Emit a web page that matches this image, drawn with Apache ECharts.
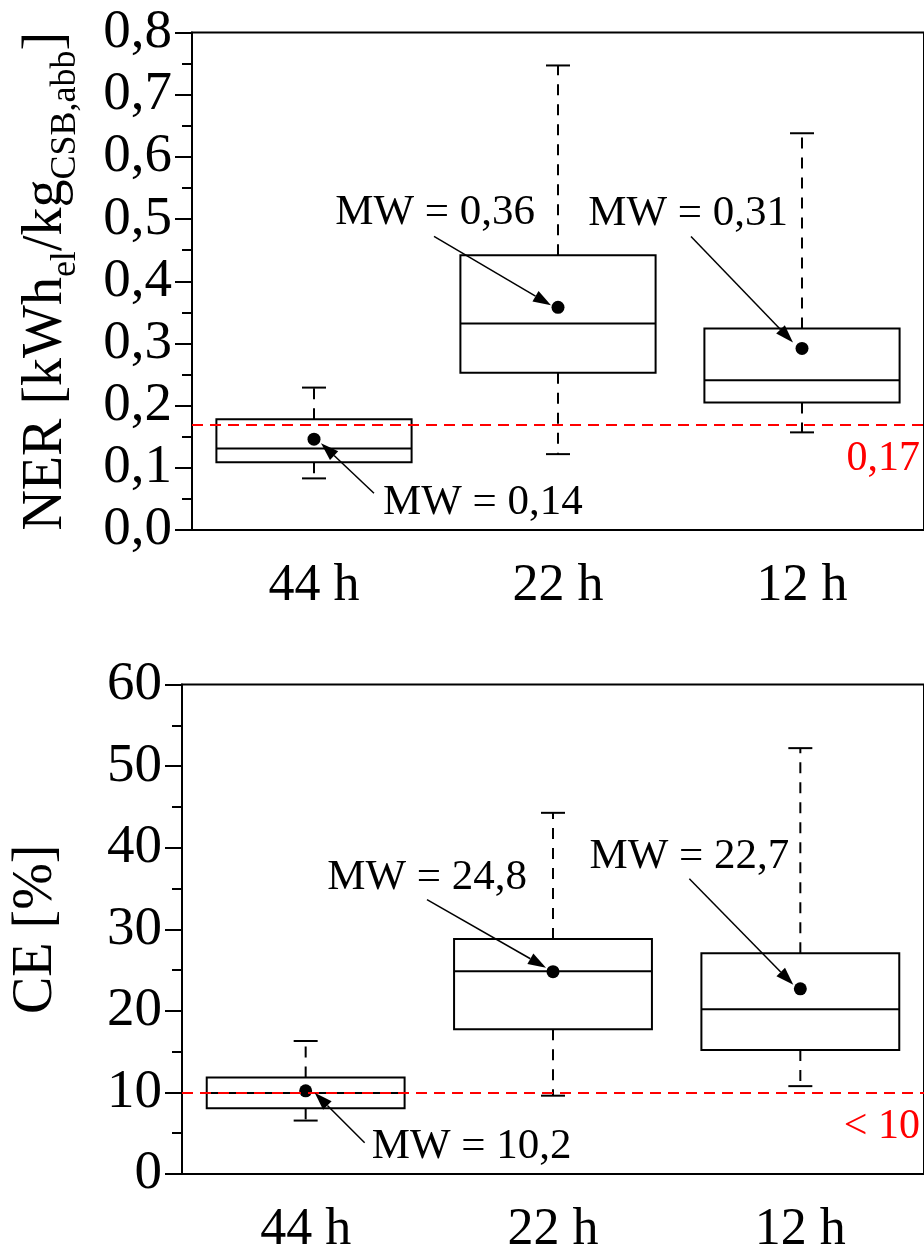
<!DOCTYPE html>
<html>
<head>
<meta charset="utf-8">
<script src="https://cdn.jsdelivr.net/npm/echarts@6/dist/echarts.min.js"></script>
<style>
  html, body { margin: 0; padding: 0; background: #fff; }
  #chart { width: 924px; height: 1256px; }
</style>
</head>
<body>
<div id="chart"></div>
<script>
// categories (retention time)
const categories = ['44 h', '22 h', '12 h'];

// NER box data [kWh_el / kg_CSB,abb]
const nerLow = [0.083, 0.122, 0.157];
const nerQ1 = [0.109, 0.253, 0.205];
const nerMedian = [0.131, 0.332, 0.241];
const nerQ3 = [0.178, 0.442, 0.324];
const nerHigh = [0.229, 0.747, 0.638];
const nerMean = [0.146, 0.358, 0.292];
const nerMeanLabels = ['MW = 0,14', 'MW = 0,36', 'MW = 0,31'];
const nerLimit = 0.17;
const nerLimitLabel = '0,17';

// CE box data [%]
const ceLow = [6.55, 9.6, 10.77];
const ceQ1 = [8.05, 17.73, 15.2];
const ceMedian = [9.93, 24.85, 20.18];
const ceQ3 = [11.82, 28.79, 27.06];
const ceHigh = [16.3, 44.27, 52.2];
const ceMean = [10.2, 24.8, 22.7];
const ceMeanLabels = ['MW = 10,2', 'MW = 24,8', 'MW = 22,7'];
const ceLimit = 10;
const ceLimitLabel = '< 10';

const FONT = "'Liberation Serif', 'Times New Roman', serif";

// annotation placement relative to the mean dot (pixels)
const nerNotes = [
  { tip: [7, 4], start: [60, 54], text: [69, 63], align: 'left' },
  { tip: [-7, -2], start: [-124, -71], text: [-23, -95], align: 'right' },
  { tip: [-9, -6], start: [-111, -112], text: [-14, -135], align: 'right' }
];
const ceNotes = [
  { tip: [9, 2], start: [59, 52], text: [66, 56], align: 'left' },
  { tip: [-7, -4], start: [-126, -72], text: [-26, -94], align: 'right' },
  { tip: [-7, -4], start: [-111, -110], text: [-11, -132], align: 'right' }
];

function boxRows(lo, q1, md, q3, hi) {
  return categories.map((c, i) => [i, lo[i], q1[i], md[i], q3[i], hi[i]]);
}

function renderBox(params, api) {
  const x = api.value(0);
  const lo = api.coord([x, api.value(1)]);
  const q1 = api.coord([x, api.value(2)]);
  const md = api.coord([x, api.value(3)]);
  const q3 = api.coord([x, api.value(4)]);
  const hi = api.coord([x, api.value(5)]);
  const bw = api.size([1, 0])[0] * 0.8;
  const cx = md[0];
  const cap = 12;
  const solid = { stroke: '#000', lineWidth: 2, fill: null };
  const dashed = { stroke: '#000', lineWidth: 2, lineDash: [11, 9] };
  return {
    type: 'group',
    children: [
      { type: 'line', shape: { x1: cx, y1: q3[1], x2: cx, y2: hi[1] }, style: dashed },
      { type: 'line', shape: { x1: cx, y1: q1[1], x2: cx, y2: lo[1] }, style: dashed },
      { type: 'line', shape: { x1: cx - cap, y1: hi[1], x2: cx + cap, y2: hi[1] }, style: solid },
      { type: 'line', shape: { x1: cx - cap, y1: lo[1], x2: cx + cap, y2: lo[1] }, style: solid },
      { type: 'rect', shape: { x: cx - bw / 2, y: q3[1], width: bw, height: q1[1] - q3[1] },
        style: { stroke: '#000', lineWidth: 2, fill: '#fff' } },
      { type: 'line', shape: { x1: cx - bw / 2, y1: md[1], x2: cx + bw / 2, y2: md[1] }, style: solid }
    ]
  };
}

function makeNote(labels, notes) {
  return function (params, api) {
    const p = api.coord([api.value(0), api.value(1)]);
    const o = notes[params.dataIndex];
    const tip = [p[0] + o.tip[0], p[1] + o.tip[1]];
    const st = [p[0] + o.start[0], p[1] + o.start[1]];
    const dx = tip[0] - st[0], dy = tip[1] - st[1];
    const len = Math.sqrt(dx * dx + dy * dy);
    const ux = dx / len, uy = dy / len;
    const hl = 18, hw = 6;
    const base = [tip[0] - ux * hl, tip[1] - uy * hl];
    return {
      type: 'group',
      children: [
        { type: 'line', shape: { x1: st[0], y1: st[1], x2: base[0], y2: base[1] },
          style: { stroke: '#000', lineWidth: 1.5 } },
        { type: 'polygon',
          shape: { points: [tip, [base[0] - uy * hw, base[1] + ux * hw], [base[0] + uy * hw, base[1] - ux * hw]] },
          style: { fill: '#000' } },
        { type: 'text',
          style: { text: labels[params.dataIndex], x: p[0] + o.text[0], y: p[1] + o.text[1],
            align: o.align, verticalAlign: 'middle', fontSize: 43, fontFamily: FONT, fill: '#000' } }
      ]
    };
  };
}

function xAxisFor(gi) {
  return {
    type: 'category', gridIndex: gi, data: categories,
    axisLine: { lineStyle: { color: '#000', width: 2 } },
    axisTick: { alignWithLabel: true, length: 16, lineStyle: { color: '#000', width: 2 } },
    axisLabel: { color: '#000', fontSize: 52, fontFamily: FONT, margin: 30 },
    splitLine: { show: false }
  };
}

function yAxisFor(gi, max, interval, fmt, name, gap) {
  return {
    type: 'value', gridIndex: gi, min: 0, max: max, interval: interval,
    name: name, nameLocation: 'middle', nameRotate: 90, nameGap: gap,
    nameTextStyle: {
      color: '#000', fontSize: 56, fontFamily: FONT,
      rich: {
        a: { fontSize: 56, fontFamily: FONT, color: '#000', lineHeight: 56 },
        s: { fontSize: 36, fontFamily: FONT, color: '#000', lineHeight: 36, padding: [40, 0, 0, 0] }
      }
    },
    axisLine: { show: true, lineStyle: { color: '#000', width: 2 } },
    axisTick: { show: true, length: 17, lineStyle: { color: '#000', width: 2 } },
    minorTick: { show: true, splitNumber: 2, length: 10, lineStyle: { color: '#000', width: 2 } },
    axisLabel: { color: '#000', fontSize: 55, fontFamily: FONT, margin: 20, formatter: fmt },
    splitLine: { show: false }
  };
}

function limitLine(value, label) {
  return {
    symbol: 'none', silent: true,
    lineStyle: { color: '#ff0000', type: [11, 7], width: 2 },
    label: { position: 'insideEndBottom', formatter: label, color: '#ff0000',
      fontSize: 42, fontFamily: FONT, distance: [4, 14] },
    data: [{ yAxis: value }]
  };
}

const chart = echarts.init(document.getElementById('chart'));
const option = {
  animation: false,
  backgroundColor: '#fff',
  grid: [
    { left: 181.5, top: 32.5, width: 747, height: 497.5, show: true, borderColor: '#000', borderWidth: 2 },
    { left: 181.5, top: 684.5, width: 747, height: 497.5, show: true, borderColor: '#000', borderWidth: 2 }
  ],
  xAxis: [xAxisFor(0), xAxisFor(1)],
  yAxis: [
    yAxisFor(0, 0.8, 0.1, v => v.toFixed(1).replace('.', ','),
      '{a|NER [kWh}{s|el}{a|/kg}{s|CSB,abb}{a|]}', 118),
    yAxisFor(1, 60, 10, v => String(v), 'CE [%]', 118)
  ],
  series: [
    { type: 'custom', xAxisIndex: 0, yAxisIndex: 0, renderItem: renderBox,
      data: boxRows(nerLow, nerQ1, nerMedian, nerQ3, nerHigh), z: 2 },
    { type: 'scatter', xAxisIndex: 0, yAxisIndex: 0, symbolSize: 13, itemStyle: { color: '#000', opacity: 1 },
      data: nerMean.map((v, i) => [i, v]), z: 4, markLine: limitLine(nerLimit, nerLimitLabel) },
    { type: 'custom', xAxisIndex: 0, yAxisIndex: 0, renderItem: makeNote(nerMeanLabels, nerNotes),
      data: nerMean.map((v, i) => [i, v]), z: 5 },

    { type: 'custom', xAxisIndex: 1, yAxisIndex: 1, renderItem: renderBox,
      data: boxRows(ceLow, ceQ1, ceMedian, ceQ3, ceHigh), z: 2 },
    { type: 'scatter', xAxisIndex: 1, yAxisIndex: 1, symbolSize: 13, itemStyle: { color: '#000', opacity: 1 },
      data: ceMean.map((v, i) => [i, v]), z: 4, markLine: limitLine(ceLimit, ceLimitLabel) },
    { type: 'custom', xAxisIndex: 1, yAxisIndex: 1, renderItem: makeNote(ceMeanLabels, ceNotes),
      data: ceMean.map((v, i) => [i, v]), z: 5 }
  ]
};
chart.setOption(option);
</script>
</body>
</html>
